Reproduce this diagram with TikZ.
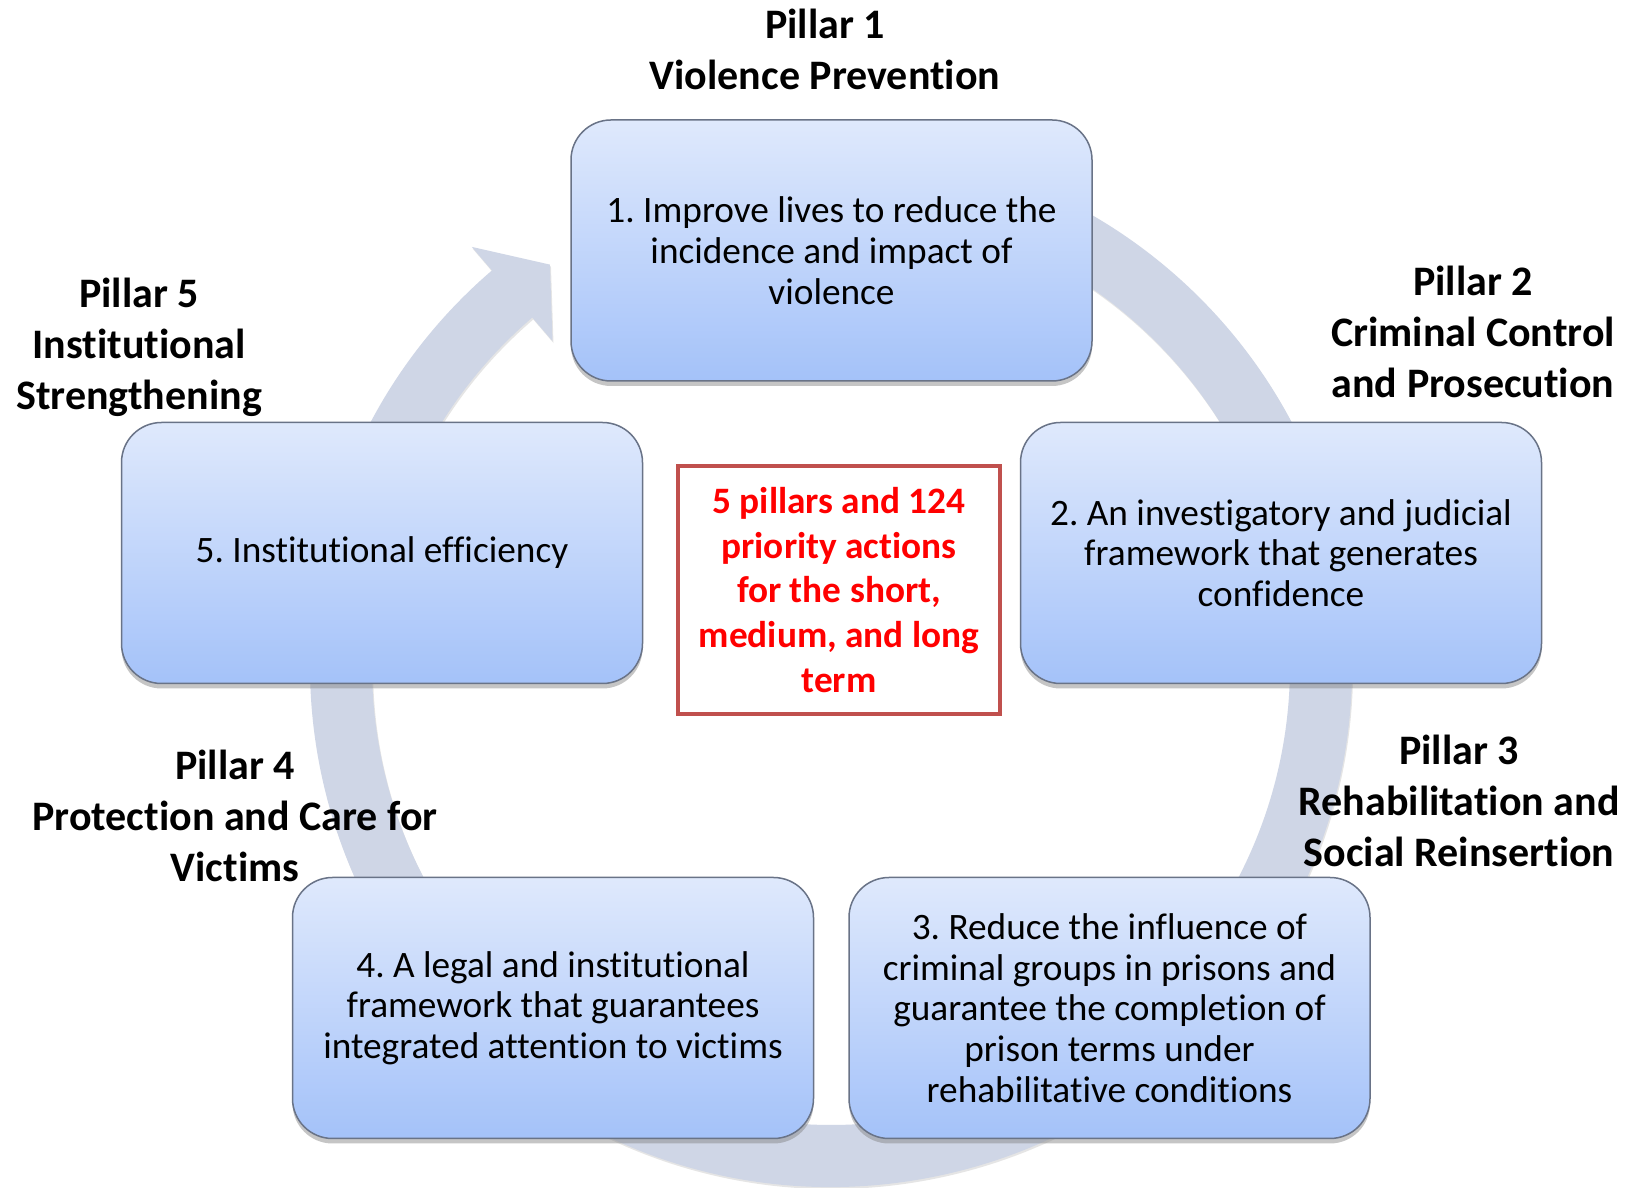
\documentclass[tikz,border=0pt]{standalone}
\usepackage{fontspec}
\setmainfont{Carlito}[Ligatures=NoCommon]
\usetikzlibrary{shadows}
\definecolor{ringc}{RGB}{207,214,230}
\definecolor{boxtop}{RGB}{223,233,252}
\definecolor{boxbot}{RGB}{164,194,249}
\definecolor{boxline}{RGB}{105,115,135}
\definecolor{redline}{RGB}{192,80,77}
\definecolor{redtext}{RGB}{255,0,0}
\frenchspacing
\begin{document}
\begin{tikzpicture}[x=1pt,y=1pt,
  pillarbox/.style={rounded corners=40pt, minimum width=521pt, minimum height=261pt,
    top color=boxtop, bottom color=boxbot, draw=boxline, line width=1.5pt,
    align=center, inner sep=0pt, font=\fontsize{37.3}{40.7}\selectfont,
    drop shadow={shadow xshift=0pt, shadow yshift=-5pt, opacity=0.45}},
  pillarlabel/.style={align=center, inner sep=0pt, font=\bfseries\fontsize{42}{51}\selectfont},
  corebox/.style={draw=redline, line width=4pt, fill=white, minimum width=322pt,
    minimum height=248pt, align=center, inner sep=0pt, text=redtext,
    font=\bfseries\fontsize{37.3}{44.8}\selectfont}]
\useasboundingbox (0,0) rectangle (1635,1188);
\fill[white] (0,0) rectangle (1635,1188);

% circular arrow behind the boxes
\begin{scope}[shift={(831,522)}]
  \fill[ringc, drop shadow={shadow xshift=1pt, shadow yshift=-2pt, opacity=0.2}]
    (100:521) arc[start angle=100, end angle=-229.4, radius=521]
    -- (-229.4:552) -- (-235:490) -- (-229.4:428) -- (-229.4:459)
    arc[start angle=-229.4, end angle=100, radius=459] -- cycle;
\end{scope}

% pillar boxes
\node[pillarbox] (b1) at (831.5,937.5) {1. Improve lives to reduce the\\incidence and impact of\\violence};
\node[pillarbox] (b2) at (1281,635) {2. An investigatory and judicial\\framework that generates\\confidence};
\node[pillarbox] (b3) at (1109.5,180) {3. Reduce the influence of\\criminal groups in prisons and\\guarantee the completion of\\prison terms under\\rehabilitative conditions};
\node[pillarbox] (b4) at (553,180) {4. A legal and institutional\\framework that guarantees\\integrated attention to victims};
\node[pillarbox] (b5) at (382,635) {5. Institutional efficiency};

% centre box
\node[corebox] (core) at (839,598) {5 pillars and 124\\priority actions\\for the short,\\medium, and long\\term};

% pillar labels
\node[pillarlabel] (p1) at (825,1139) {Pillar 1\\Violence Prevention};
\node[pillarlabel] (p2) at (1473,856) {Pillar 2\\Criminal Control\\and Prosecution};
\node[pillarlabel] (p3) at (1459,387) {Pillar 3\\Rehabilitation and\\Social Reinsertion};
\node[pillarlabel] (p4) at (235,372) {Pillar 4\\Protection and Care for\\Victims};
\node[pillarlabel] (p5) at (139,841) {Pillar 5\\Institutional\\Strengthening};
\end{tikzpicture}
\end{document}
